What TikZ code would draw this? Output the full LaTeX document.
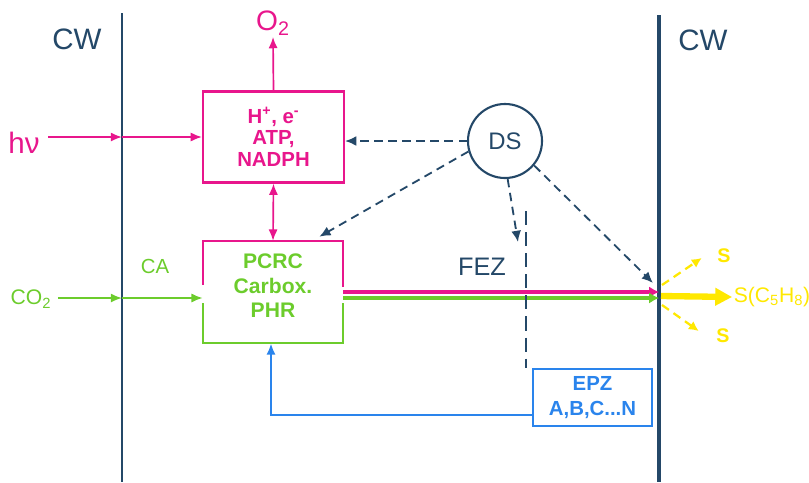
\documentclass[tikz,border=0pt]{standalone}
\usepackage{fontspec}
\setmainfont{Liberation Sans}
\usetikzlibrary{arrows.meta, positioning, calc}
\definecolor{mypink}{RGB}{232,22,140}
\definecolor{mygreen}{RGB}{108,204,44}
\definecolor{myblue}{RGB}{42,132,236}
\definecolor{myslate}{RGB}{36,72,104}
\definecolor{myyellow}{RGB}{255,232,0}

\begin{document}
\begin{tikzpicture}[x=0.025cm, y=-0.025cm,
    tip/.style={-{Latex[length=8pt,width=6.5pt]}},
    wall/.style={myslate, line width=1pt},
    pinkbox/.style={draw=mypink, line width=1.5pt, minimum width=3.525cm, minimum height=2.275cm,
        align=center, text=mypink, font=\bfseries\fontsize{14.5}{15.5}\selectfont},
    bluebox/.style={draw=myblue, line width=1.4pt, minimum width=2.975cm, minimum height=1.425cm,
        align=center, text=myblue, font=\bfseries\fontsize{14.5}{17.5}\selectfont},
    dsarrow/.style={myslate, line width=1.3pt, dash pattern=on 6pt off 4pt, -{Latex[length=8pt,width=7pt]}},
    yarrow/.style={myyellow, line width=1.6pt, dash pattern=on 6pt off 4pt, -{Latex[length=7pt,width=7pt]}},
    lbl/.style={inner sep=1pt, font=\fontsize{#1}{#1}\selectfont},
    lbl/.default=15]
\useasboundingbox (0,0) rectangle (809,482);

% Cell walls
\coordinate (wallLtop) at (122,13);
\coordinate (wallLbot) at (122,482);
\coordinate (wallRtop) at (659,15);
\coordinate (wallRbot) at (659,482);
\draw[wall, line width=0.9pt] (wallLtop) -- (wallLbot);
\draw[wall, line width=2.2pt] (wallRtop) -- (wallRbot);
\node[lbl=21, myslate] (cwL) at (77,39) {CW};
\node[lbl=21, myslate] (cwR) at (703,40) {CW};

% Light reactions
\node[pinkbox] (photo) at (273.5,137) {H\textsuperscript{+}, e\textsuperscript{-}\\ATP,\\NADPH};
\node[lbl=20, mypink, anchor=south] (o2) at (273,37) {O\textsubscript{2}};
\node[lbl=21, mypink] (hv) at (24,143) {hν};
\draw[mypink, line width=1.2pt, tip] (photo.north) -- (o2.south);
\draw[mypink, line width=1.2pt, tip] ($(hv.east |- photo.west)+(7,0)$) -- (photo.west -| wallLtop);
\draw[mypink, line width=1.2pt, tip] (photo.west -| wallLtop) -- (photo.west);

% Carbon box (split border)
\node[minimum width=3.5cm, minimum height=2.55cm] (cb) at (273,292) {};
\node[align=center, text=mygreen, font=\bfseries\fontsize{15}{17.5}\selectfont] (calvin) at (273,286) {PCRC\\Carbox.\\PHR};
\draw[mypink, line width=1.5pt] ($(cb.north west)+(0,44)$) -- (cb.north west) -- (cb.north east) -- ($(cb.north east)+(0,46)$);
\draw[mygreen, line width=1.5pt] ($(cb.south west)+(0,-40)$) -- (cb.south west) -- (cb.south east) -- ($(cb.south east)+(0,-40)$);
\draw[mypink, line width=1.2pt, {Latex[length=8pt,width=6.5pt]}-{Latex[length=8pt,width=6.5pt]}] (photo.south) -- (cb.north);

% CO2 input
\node[lbl=15, mygreen] (co2) at (31,299) {CO\textsubscript{2}};
\node[lbl=14.5, mygreen] (ca) at (155,266) {CA};
\coordinate (co2in) at ($(cb.west)+(0,6)$);
\draw[mygreen, line width=1.2pt, tip] ($(co2.east |- co2in)+(5,0)$) -- (co2in -| wallLtop);
\draw[mygreen, line width=1.2pt, tip] (co2in -| wallLtop) -- (co2in);

% Outputs to the wall
\draw[mypink, line width=3pt, -{Latex[length=7pt,width=8pt]}] (cb.east) -- (cb.east -| wallRtop);
\draw[mygreen, line width=3pt, -{Latex[length=7pt,width=8pt]}] ($(cb.east)+(0,6)$) -- ($(cb.east -| wallRtop)+(0,6)$);

% DS
\node[circle, draw=myslate, line width=1.5pt, minimum size=1.85cm, lbl=17, myslate] (ds) at (505,141) {DS};
\coordinate (fezTip) at (518,242);
\draw[dsarrow] (ds.west) -- (ds.west -| photo.east);
\draw[dsarrow] (ds.196) -- ($(cb.north east)+(-24,-4)$);
\draw[dsarrow] (ds.-86) -- (fezTip);
\draw[dsarrow] (ds.-40) -- ($(wallRtop |- cb.east)+(-6,-9)$);

% FEZ / EPZ
\node[lbl=18, myslate] (fez) at (482,267) {FEZ};
\node[bluebox] (epz) at (592.5,397.5) {EPZ\\A,B,C...N};
\coordinate (fezTop) at (526,211);
\draw[myslate, line width=0.9pt, dash pattern=on 10pt off 5pt] (fezTop) -- (fezTop |- epz.north);
\draw[myblue, line width=1.6pt, tip] ($(epz.south west)+(0,-12)$) -| ($(cb.south)+(-2,0)$);

% Emission
\node[lbl=13, myyellow, font=\bfseries\fontsize{14}{14}\selectfont] (s1) at (724,256) {S};
\node[lbl=15, myyellow] (sc) at (772,297) {S(C\textsubscript{5}H\textsubscript{8})};
\node[lbl=13, myyellow, font=\bfseries\fontsize{14}{14}\selectfont] (s2) at (723,336) {S};
\draw[yarrow] ($(wallRtop |- cb.east)+(3,-7)$) -- ($(s1.west)+(-14,2)$);
\draw[yarrow] ($(wallRtop |- cb.east)+(3,13)$) -- ($(s2.west)+(-16,-5)$);
\draw[myyellow, line width=4.5pt, -{Triangle[length=12pt,width=12pt]}] ($(wallRtop |- cb.east)+(2,4)$) -- (sc.west);
\end{tikzpicture}
\end{document}
